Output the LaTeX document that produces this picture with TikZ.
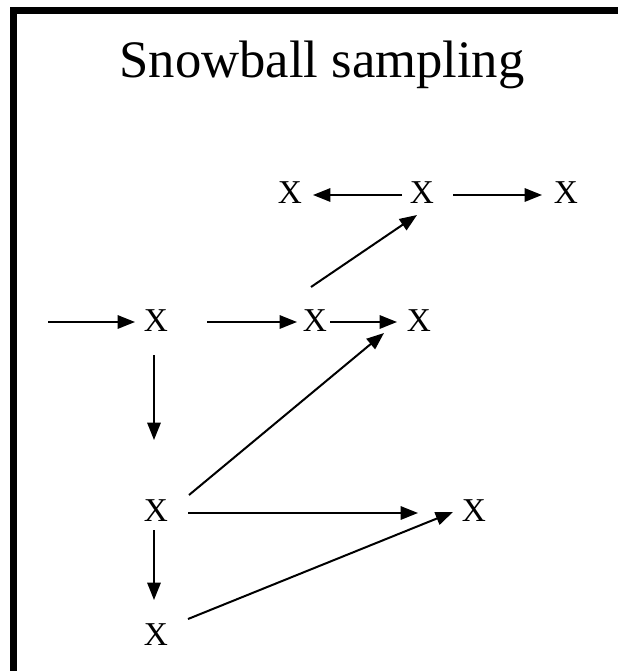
\documentclass[tikz,border=0pt]{standalone}
\usepackage{fontspec}
\setmainfont{Liberation Serif}
\usetikzlibrary{arrows.meta,calc}
\begin{document}
\begin{tikzpicture}[x=0.75pt,y=-0.75pt,
  xnode/.style={inner sep=0pt,font=\fontsize{25}{29}\selectfont},
  link/.style={line width=1.5pt,-{Triangle[length=13pt,width=10pt]}}]
\useasboundingbox (0,0) rectangle (618,671);
% frame
\fill[black] (10,7) rectangle (618,14);
\fill[black] (10,7) rectangle (16.5,671);
% title
\node[anchor=base,inner sep=0pt,font=\fontsize{39.5}{46}\selectfont] (title) at (322,77) {Snowball sampling};
% nodes
\node[xnode] (a) at (290,193) {X};
\node[xnode] (b) at (422,193) {X};
\node[xnode] (c) at (566,193) {X};
\node[xnode] (d) at (156,321) {X};
\node[xnode] (e) at (315,321) {X};
\node[xnode] (f) at (419,321) {X};
\node[xnode] (g) at (156,511) {X};
\node[xnode] (h) at (474,511) {X};
\node[xnode] (i) at (156,635) {X};
\coordinate (in) at (48,322);
% connectors
\draw[link] (in) -- ($(d)+(-21,1)$);
\draw[link] ($(d)+(51,1)$) -- ($(e)+(-18,1)$);
\draw[link] ($(e)+(15,1)$) -- ($(f)+(-22,1)$);
\draw[link] ($(b)+(-20,2)$) -- ($(a)+(23,2)$);
\draw[link] ($(b)+(31,2)$) -- ($(c)+(-24,2)$);
\draw[link] ($(e)+(-4,-34)$) -- ($(b)+(-5,22)$);
\draw[link] ($(d)+(-2,34)$) -- ($(g)+(-2,-71)$);
\draw[link] ($(g)+(-2,19)$) -- ($(i)+(-2,-35)$);
\draw[link] ($(g)+(32,2)$) -- ($(h)+(-56,2)$);
\draw[link] ($(g)+(33,-16)$) -- ($(f)+(-35,12)$);
\draw[link] ($(i)+(32,-16)$) -- ($(h)+(-21,1)$);
\end{tikzpicture}
\end{document}
